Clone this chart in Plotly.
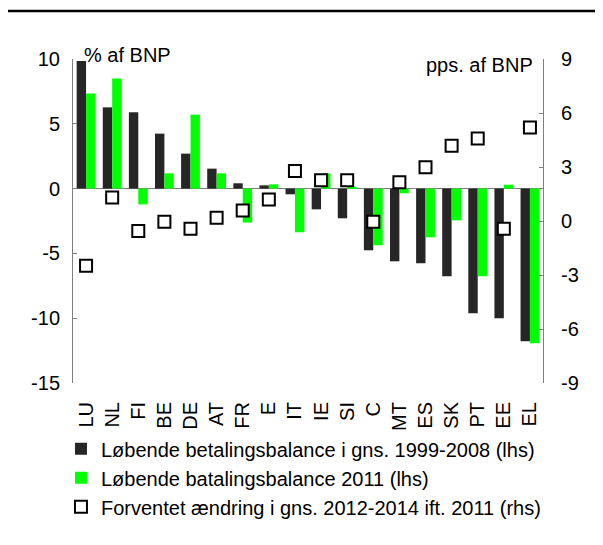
import plotly.graph_objects as go

countries = ["LU", "NL", "FI", "BE", "DE", "AT", "FR", "E", "IT", "IE",
             "SI", "C", "MT", "ES", "SK", "PT", "EE", "EL"]
avg_1999_2008 = [9.85, 6.27, 5.89, 4.24, 2.70, 1.54, 0.41, 0.25, -0.44, -1.60,
                 -2.29, -4.76, -5.61, -5.76, -6.77, -9.62, -10.0, -11.78]
bal_2011 = [7.33, 8.49, -1.22, 1.18, 5.71, 1.18, -2.62, 0.33, -3.37, 1.18,
            0.15, -4.37, -0.36, -3.76, -2.45, -6.77, 0.30, -11.94]
exp_change = [-2.48, 1.30, -0.56, -0.04, -0.43, 0.18, 0.59, 1.20, 2.78, 2.26,
              2.26, -0.04, 2.15, 2.98, 4.18, 4.59, -0.43, 5.20]

left_ticks = [-15, -10, -5, 0, 5, 10]
left_ticktext = ["-15", "-10", "-5", "0", "5", "10"]
right_ticks = [-9, -6, -3, 0, 3, 6, 9]
right_ticktext = ["-9", "-6", "-3", "0", "3", "6", "9"]

names = ["Løbende betalingsbalance i gns. 1999-2008 (lhs)",
         "Løbende batalingsbalance 2011 (lhs)",
         "Forventet ændring i gns. 2012-2014 ift. 2011 (rhs)"]

FONT = "Liberation Sans, Arial, sans-serif"
AXC = "#808080"

fig = go.Figure()
fig.add_trace(go.Bar(x=countries, y=avg_1999_2008, name=names[0],
                     marker=dict(color="#262626", line=dict(width=0))))
fig.add_trace(go.Bar(x=countries, y=bal_2011, name=names[1],
                     marker=dict(color="#00ff00", line=dict(width=0))))
fig.add_trace(go.Scatter(x=countries, y=exp_change, name=names[2], yaxis="y2",
                         mode="markers",
                         marker=dict(symbol="square", size=12, color="white",
                                     line=dict(color="black", width=2))))

fig.update_layout(
    template="none",
    width=595, height=537,
    margin=dict(l=65, r=60, t=51, b=162, pad=0, autoexpand=False),
    paper_bgcolor="white", plot_bgcolor="white",
    font=dict(family=FONT, size=20, color="black"),
    barmode="group", bargap=0.28, bargroupgap=0,
    showlegend=True,
    legend=dict(orientation="v", x=-0.0256, xanchor="left", y=-0.143, yanchor="top",
                font=dict(size=20), itemsizing="constant", tracegroupgap=0,
                bgcolor="rgba(0,0,0,0)"),
    xaxis=dict(type="category", tickmode="array", tickvals=countries,
               range=[-0.5, len(countries) - 0.5],
               showline=False, ticks="", tickangle=-90, automargin=False,
               showgrid=False, zeroline=False, ticklabelstandoff=14,
               tickfont=dict(size=20)),
    yaxis=dict(range=[-15, 10], tickvals=left_ticks, ticktext=left_ticktext,
               ticks="inside", ticklen=4, tickcolor=AXC, showline=True,
               linecolor=AXC, linewidth=1, showgrid=False, zeroline=True,
               zerolinecolor=AXC, zerolinewidth=1, ticklabelstandoff=8,
               automargin=False),
    yaxis2=dict(range=[-9, 9], tickvals=right_ticks, ticktext=right_ticktext,
                overlaying="y", side="right", ticks="inside", ticklen=4,
                tickcolor=AXC, showline=True, linecolor=AXC, linewidth=1,
                showgrid=False, zeroline=False, ticklabelstandoff=13,
                automargin=False),
    shapes=[dict(type="line", xref="paper", yref="paper",
                 x0=-65/470, x1=530/470, y0=372/324, y1=372/324,
                 line=dict(color="black", width=2.5))],
    annotations=[
        dict(text="% af BNP", xref="paper", yref="paper", x=0.019, y=1.012,
             xanchor="left", yanchor="middle", showarrow=False),
        dict(text="pps. af BNP", xref="paper", yref="paper", x=0.983, y=0.981,
             xanchor="right", yanchor="middle", showarrow=False),
    ],
)

fig.write_html("out.html")
